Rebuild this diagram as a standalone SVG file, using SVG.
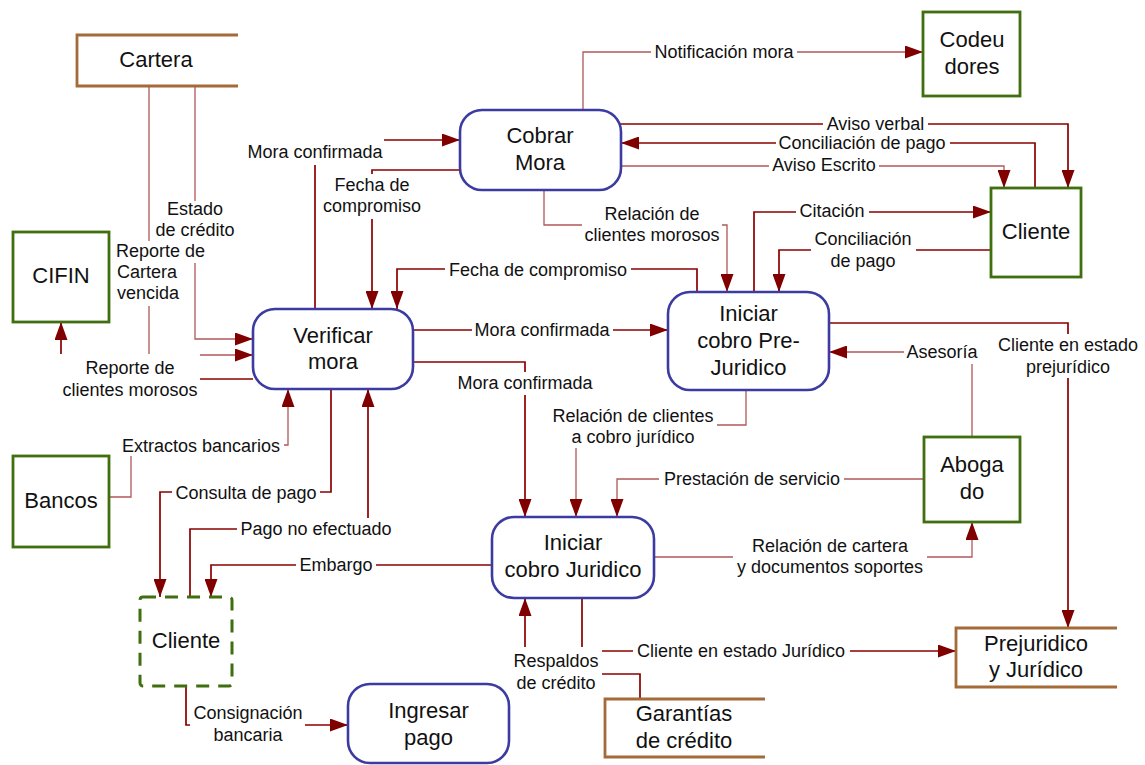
<svg xmlns="http://www.w3.org/2000/svg" width="1145" height="765" viewBox="0 0 1145 765">
<defs>
<style>
.ln{fill:none;stroke:#8B0000;stroke-width:1.7}
.lt{fill:none;stroke:#B05858;stroke-width:1.3}
.proc{fill:#fff;stroke:#3B3BA0;stroke-width:2.6}
.ent{fill:#fff;stroke:#3F6F0E;stroke-width:2.8}
.dash{fill:#fff;stroke:#3F6F0E;stroke-width:3;stroke-dasharray:13 9}
.store{fill:none;stroke:#A46A38;stroke-width:2.8}
.nt{font-family:"Liberation Sans",Arial,sans-serif;font-size:22px;fill:#111;text-anchor:middle}
.lb{font-family:"Liberation Sans",Arial,sans-serif;font-size:18px;fill:#111;text-anchor:middle}
.ls{text-anchor:start}
.bg{fill:#fff}
</style>
<marker id="ah" viewBox="0 0 18 13" refX="18" refY="6.5" markerWidth="18" markerHeight="13" markerUnits="userSpaceOnUse" orient="auto">
<path d="M0,0 L18,6.5 L0,13 z" fill="#800000"/>
</marker>
</defs>
<rect width="1145" height="765" fill="#fff"/>
<g id="connectors">
<path class="lt" d="M583,110 V52 H923" marker-end="url(#ah)"/>
<path class="ln" d="M620,124 H1068 V188" marker-end="url(#ah)"/>
<path class="ln" d="M1035,188 V143 H621" marker-end="url(#ah)"/>
<path class="lt" d="M620,166 H1004 V188" marker-end="url(#ah)"/>
<path class="ln" d="M315,309 V140 H460" marker-end="url(#ah)"/>
<path class="ln" d="M460,170 H372 V309" marker-end="url(#ah)"/>
<path class="ln" d="M697,292 V269 H397 V309" marker-end="url(#ah)"/>
<path class="ln" d="M413,330 H668" marker-end="url(#ah)"/>
<path class="ln" d="M413,362 H525 V517" marker-end="url(#ah)"/>
<path class="lt" d="M544,190 V225 H727 V292" marker-end="url(#ah)"/>
<path class="ln" d="M754,292 V212 H991" marker-end="url(#ah)"/>
<path class="ln" d="M991,250 H779 V292" marker-end="url(#ah)"/>
<path class="ln" d="M829,323 H1068 V628" marker-end="url(#ah)"/>
<path class="lt" d="M972,437 V352 H829" marker-end="url(#ah)"/>
<path class="lt" d="M746,390 V425 H576 V517" marker-end="url(#ah)"/>
<path class="lt" d="M924,479 H617 V517" marker-end="url(#ah)"/>
<path class="lt" d="M654,557 H972 V522" marker-end="url(#ah)"/>
<path class="lt" d="M109,497 H131 V445 H288 V389" marker-end="url(#ah)"/>
<path class="ln" d="M331,389 V492 H160 V597" marker-end="url(#ah)"/>
<path class="ln" d="M190,597 V529 H368 V389" marker-end="url(#ah)"/>
<path class="ln" d="M492,565 H211 V597" marker-end="url(#ah)"/>
<path class="ln" d="M186,686 V725 H348" marker-end="url(#ah)"/>
<path class="ln" d="M640,699 V674 H525 V598" marker-end="url(#ah)"/>
<path class="ln" d="M582,598 V651 H956" marker-end="url(#ah)"/>
<path class="lt" d="M195,86 V339 H253" marker-end="url(#ah)"/>
<path class="lt" d="M149,86 V355 H253" marker-end="url(#ah)"/>
<path class="ln" d="M253,379 H61 V322" marker-end="url(#ah)"/>
<g id="labels">
<rect class="bg" x="651" y="41" width="146" height="22"/><text class="lb" x="724" y="58">Notificación mora</text>
<rect class="bg" x="823" y="115" width="105" height="18"/><text class="lb" x="875.5" y="130">Aviso verbal</text>
<rect class="bg" x="776" y="134" width="174" height="19"/><text class="lb" x="862" y="149">Conciliación de pago</text>
<rect class="bg" x="769" y="157" width="110" height="19"/><text class="lb" x="824" y="171">Aviso Escrito</text>
<rect class="bg" x="246" y="138" width="138" height="27"/><text class="lb" x="315" y="158">Mora confirmada</text>
<rect class="bg" x="320" y="174" width="104" height="45"/><text class="lb" x="372" y="191">Fecha de</text><text class="lb" x="372" y="212">compromiso</text>
<rect class="bg" x="445" y="258" width="186" height="22"/><text class="lb" x="538" y="276">Fecha de compromiso</text>
<rect class="bg" x="472" y="319" width="141" height="22"/><text class="lb" x="542" y="336">Mora confirmada</text>
<rect class="bg" x="455" y="372" width="140" height="23"/><text class="lb" x="525" y="389">Mora confirmada</text>
<rect class="bg" x="582" y="203" width="140" height="44"/><text class="lb" x="652" y="220">Relación de</text><text class="lb" x="652" y="241">clientes morosos</text>
<rect class="bg" x="796" y="201" width="73" height="22"/><text class="lb" x="832" y="217">Citación</text>
<rect class="bg" x="811" y="229" width="105" height="43"/><text class="lb" x="863" y="245">Conciliación</text><text class="lb" x="863" y="266.5">de pago</text>
<rect class="bg" x="995" y="334" width="146" height="44"/><text class="lb" x="1068" y="351">Cliente en estado</text><text class="lb" x="1068" y="373">prejurídico</text>
<rect class="bg" x="904" y="341" width="77" height="23"/><text class="lb" x="942" y="358">Asesoría</text>
<rect class="bg" x="549" y="404" width="168" height="44"/><text class="lb" x="633" y="421.5">Relación de clientes</text><text class="lb" x="633" y="442.5">a cobro jurídico</text>
<rect class="bg" x="659" y="468" width="185" height="22"/><text class="lb" x="752" y="485">Prestación de servicio</text>
<rect class="bg" x="733" y="535" width="194" height="43"/><text class="lb" x="830" y="552">Relación de cartera</text><text class="lb" x="830" y="573">y documentos soportes</text>
<rect class="bg" x="119" y="434" width="165" height="22"/><text class="lb" x="201" y="452">Extractos bancarios</text>
<rect class="bg" x="172" y="481" width="148" height="22"/><text class="lb" x="246" y="499">Consulta de pago</text>
<rect class="bg" x="237" y="518" width="158" height="23"/><text class="lb" x="316" y="535">Pago no efectuado</text>
<rect class="bg" x="296" y="554" width="80" height="22"/><text class="lb" x="336" y="571">Embargo</text>
<rect class="bg" x="190" y="702" width="115" height="44"/><text class="lb" x="248" y="719">Consignación</text><text class="lb" x="248" y="740.5">bancaria</text>
<rect class="bg" x="511" y="647" width="91" height="50"/><text class="lb" x="556" y="667">Respaldos</text><text class="lb" x="556" y="689">de crédito</text>
<rect class="bg" x="633" y="640" width="217" height="22"/><text class="lb" x="741" y="656.5">Cliente en estado Jurídico</text>
<rect class="bg" x="155" y="201" width="81" height="40"/><text class="lb" x="195" y="215">Estado</text><text class="lb" x="195" y="236">de crédito</text>
<rect class="bg" x="113" y="241" width="96" height="22"/><rect class="bg" x="113" y="262" width="70" height="44"/><text class="lb ls" x="116" y="257">Reporte de</text><text class="lb ls" x="117" y="278">Cartera</text><text class="lb ls" x="117" y="299">vencida</text>
<rect class="bg" x="55" y="354" width="145" height="46"/><text class="lb" x="130" y="374">Reporte de</text><text class="lb" x="130" y="395.5">clientes morosos</text>
</g>
</g>
<g id="cartera"><rect x="77" y="35" width="161" height="51" fill="#fff"/><path class="store" d="M238,35 H77 V86 H238"/><text class="nt" x="156" y="67">Cartera</text></g>
<g id="codeudores"><rect class="ent" x="923" y="12" width="97" height="84"/><text class="nt" x="972" y="47">Codeu</text><text class="nt" x="972" y="74">dores</text></g>
<g id="cobrar-mora"><rect class="proc" x="460" y="110" width="161" height="80" rx="22"/><text class="nt" x="540" y="143">Cobrar</text><text class="nt" x="540" y="170">Mora</text></g>
<g id="cliente-top"><rect class="ent" x="991" y="188" width="90" height="89"/><text class="nt" x="1036" y="239">Cliente</text></g>
<g id="cifin"><rect class="ent" x="13" y="232" width="96" height="90"/><text class="nt" x="61" y="283">CIFIN</text></g>
<g id="verificar-mora"><rect class="proc" x="253" y="309" width="160" height="80" rx="22"/><text class="nt" x="333" y="343">Verificar</text><text class="nt" x="333" y="369">mora</text></g>
<g id="pre-juridico"><rect class="proc" x="668" y="292" width="161" height="98" rx="22"/><text class="nt" x="748.5" y="321">Iniciar</text><text class="nt" x="748.5" y="348">cobro Pre-</text><text class="nt" x="748.5" y="375">Juridico</text></g>
<g id="abogado"><rect class="ent" x="924" y="437" width="96" height="85"/><text class="nt" x="972" y="472">Aboga</text><text class="nt" x="972" y="499">do</text></g>
<g id="bancos"><rect class="ent" x="13" y="456" width="96" height="91"/><text class="nt" x="61" y="508">Bancos</text></g>
<g id="juridico"><rect class="proc" x="492" y="517" width="162" height="81" rx="22"/><text class="nt" x="573" y="550">Iniciar</text><text class="nt" x="573" y="577">cobro Juridico</text></g>
<g id="cliente-dashed"><rect class="dash" x="140" y="597" width="92" height="89" rx="3"/><text class="nt" x="186" y="648">Cliente</text></g>
<g id="ingresar-pago"><rect class="proc" x="348" y="684" width="161" height="79" rx="22"/><text class="nt" x="428.5" y="718">Ingresar</text><text class="nt" x="428.5" y="745">pago</text></g>
<g id="garantias"><rect x="605" y="699" width="160" height="58" fill="#fff"/><path class="store" d="M765,699 H605 V757 H765"/><text class="nt" x="684" y="721">Garantías</text><text class="nt" x="684" y="748">de crédito</text></g>
<g id="prejuridico-juridico"><rect x="956" y="628" width="161" height="59" fill="#fff"/><path class="store" d="M1117,628 H956 V687 H1117"/><text class="nt" x="1036" y="651">Prejuridico</text><text class="nt" x="1036" y="677">y Jurídico</text></g>
</svg>
